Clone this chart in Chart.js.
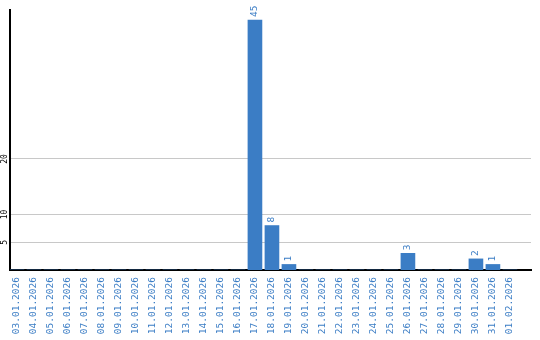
<!DOCTYPE html>
<html>
<head>
  <meta charset="UTF-8">
  <title>Chart</title>
  <script src="https://cdn.jsdelivr.net/npm/chart.js"></script>
  <style>
    body { margin: 0; background: #fff; }
    canvas { display: block; }
  </style>
</head>
<body>
  <canvas id="chart" width="540" height="340"></canvas>
  <script>
    const dates = ['03.01.2026', '04.01.2026', '05.01.2026', '06.01.2026', '07.01.2026', '08.01.2026',
      '09.01.2026', '10.01.2026', '11.01.2026', '12.01.2026', '13.01.2026', '14.01.2026', '15.01.2026',
      '16.01.2026', '17.01.2026', '18.01.2026', '19.01.2026', '20.01.2026', '21.01.2026', '22.01.2026',
      '23.01.2026', '24.01.2026', '25.01.2026', '26.01.2026', '27.01.2026', '28.01.2026', '29.01.2026',
      '30.01.2026', '31.01.2026', '01.02.2026'];
    const counts = [0, 0, 0, 0, 0, 0, 0, 0, 0, 0, 0, 0, 0, 0, 45, 8, 1, 0, 0, 0, 0, 0, 0, 3, 0, 0, 0, 2, 1, 0];
    const yTicks = [5, 10, 20];

    const blue = '#3b7dc5';
    const monoFont = '9.5px "DejaVu Sans Mono", monospace';

    // numbers above bars + y labels, both turned 90 degrees
    const labelsPlugin = {
      id: 'labels',
      afterDatasetsDraw(chart) {
        const ctx = chart.ctx;
        const meta = chart.getDatasetMeta(0);
        ctx.save();
        ctx.font = monoFont;
        ctx.fillStyle = blue;
        ctx.textAlign = 'left';
        ctx.textBaseline = 'middle';
        meta.data.forEach((bar, i) => {
          if (!counts[i]) return;
          ctx.save();
          ctx.translate(bar.x, bar.y - 3);
          ctx.rotate(-Math.PI / 2);
          ctx.fillText(String(counts[i]), 0, 0);
          ctx.restore();
        });
        const y = chart.scales.y;
        ctx.font = '8px "DejaVu Sans Mono", monospace';
        ctx.fillStyle = '#000';
        ctx.textAlign = 'center';
        yTicks.forEach(v => {
          ctx.save();
          ctx.translate(5, y.getPixelForValue(v));
          ctx.rotate(-Math.PI / 2);
          ctx.fillText(String(v), 0, 0);
          ctx.restore();
        });
        ctx.restore();
      }
    };

    new Chart(document.getElementById('chart'), {
      type: 'bar',
      data: {
        datasets: [{
          data: counts.map((v, i) => ({ x: i, y: v })),
          backgroundColor: blue,
          borderWidth: 0,
          barThickness: 14
        }]
      },
      options: {
        responsive: false,
        animation: false,
        layout: { padding: { top: 10, right: 9, left: 0, bottom: 0 } },
        plugins: { legend: { display: false }, tooltip: { enabled: false } },
        scales: {
          x: {
            type: 'linear',
            offset: false,
            min: -0.41,
            max: 30.24,
            afterBuildTicks: s => { s.ticks = dates.map((d, i) => ({ value: i })); },
            afterFit: s => { s.height = 70; },
            grid: { display: false, drawTicks: false, offset: false },
            border: { color: '#000', width: 2 },
            ticks: {
              autoSkip: false,
              minRotation: 90,
              maxRotation: 90,
              padding: 7,
              color: blue,
              font: { family: '"DejaVu Sans Mono", monospace', size: 9.5 },
              callback: v => dates[v]
            }
          },
          y: {
            min: 0,
            max: 46.8,
            afterBuildTicks: s => { s.ticks = yTicks.map(v => ({ value: v })); },
            afterFit: s => { s.width = 10; },
            grid: { color: '#c8c8c8', drawTicks: false },
            border: { color: '#000', width: 2 },
            ticks: { display: false }
          }
        }
      },
      plugins: [labelsPlugin]
    });
  </script>
</body>
</html>
